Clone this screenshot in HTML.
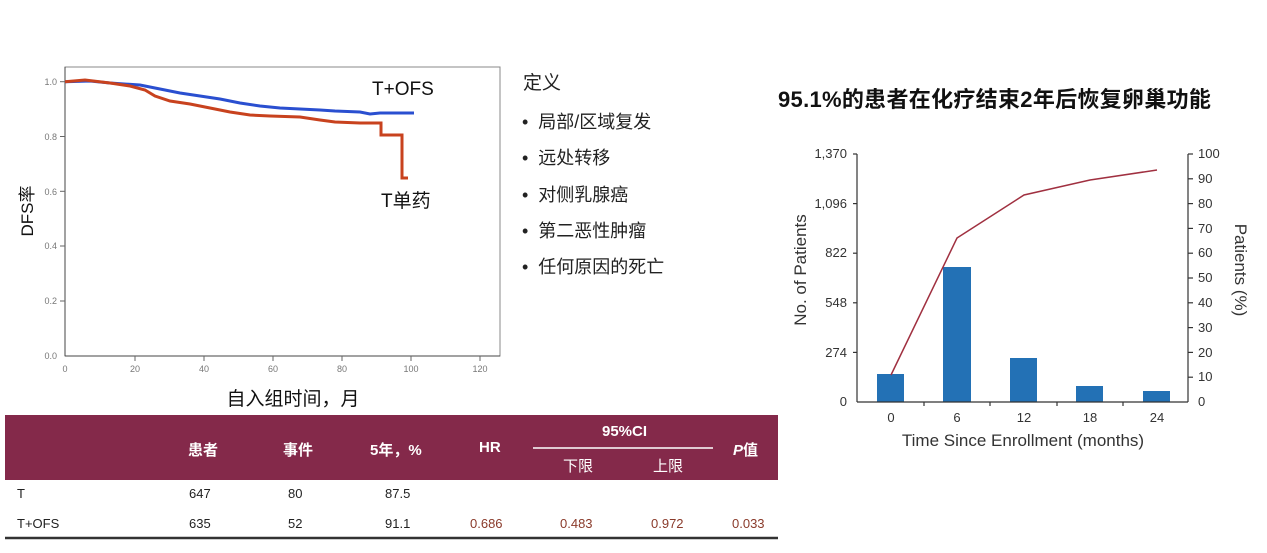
<!DOCTYPE html>
<html><head><meta charset="utf-8"><style>
body{margin:0;width:1267px;height:553px;background:#fff;overflow:hidden;position:relative;font-family:"Liberation Sans","Noto Sans CJK SC",sans-serif;}
.a{position:absolute;white-space:nowrap;}
</style></head><body>
<svg class="a" style="left:0;top:0" width="1267" height="553">
<rect x="65" y="67" width="435" height="289" fill="#fff" stroke="#888" stroke-width="1"/>
<g stroke="#666" stroke-width="1">
<line x1="65" y1="356" x2="500" y2="356" stroke="#444"/>
<line x1="65" y1="67" x2="65" y2="356" stroke="#444"/>
<line x1="60" y1="81.7" x2="65" y2="81.7"/><line x1="60" y1="136.5" x2="65" y2="136.5"/><line x1="60" y1="191.3" x2="65" y2="191.3"/><line x1="60" y1="246" x2="65" y2="246"/><line x1="60" y1="301" x2="65" y2="301"/>
<line x1="135" y1="356" x2="135" y2="361"/><line x1="204" y1="356" x2="204" y2="361"/><line x1="273" y1="356" x2="273" y2="361"/><line x1="342" y1="356" x2="342" y2="361"/><line x1="411" y1="356" x2="411" y2="361"/><line x1="480" y1="356" x2="480" y2="361"/>
</g>
<g font-size="9" fill="#777" font-family="Liberation Sans">
<text x="57" y="85" text-anchor="end">1.0</text><text x="57" y="140" text-anchor="end">0.8</text><text x="57" y="195" text-anchor="end">0.6</text><text x="57" y="249" text-anchor="end">0.4</text><text x="57" y="304" text-anchor="end">0.2</text><text x="57" y="359" text-anchor="end">0.0</text>
<text x="65" y="372" text-anchor="middle">0</text><text x="135" y="372" text-anchor="middle">20</text><text x="204" y="372" text-anchor="middle">40</text><text x="273" y="372" text-anchor="middle">60</text><text x="342" y="372" text-anchor="middle">80</text><text x="411" y="372" text-anchor="middle">100</text><text x="480" y="372" text-anchor="middle">120</text>
</g>
<polyline fill="none" stroke="#2a4fd0" stroke-width="3" points="65,81.7 90,81 110,83 140,85 160,89 180,93 200,96 220,99 240,103 260,106 280,108 300,109 320,110 335,111 360,112 370,114 380,113 414,113"/>
<polyline fill="none" stroke="#c8421e" stroke-width="3" points="65,81.7 85,80 110,83 130,86 145,90 155,96 170,101 190,104 210,108 230,112 250,115 270,116 300,117 320,120 335,122 360,123 378,123 381,123 381,135 395,135 402,135 402,178 408,178"/>
<text x="372" y="95" font-size="19" fill="#111">T+OFS</text>
<text x="381" y="207" font-size="19" fill="#111" font-family="Liberation Sans,Noto Sans CJK SC,sans-serif">T单药</text>
<text transform="translate(33,211) rotate(-90)" font-size="17" fill="#111" text-anchor="middle" font-family="Liberation Sans,Noto Sans CJK SC,sans-serif">DFS率</text>
<text x="293" y="405" font-size="19" fill="#111" text-anchor="middle" font-family="Liberation Sans,Noto Sans CJK SC,sans-serif">自入组时间，月</text>
<g fill="#2371b5">
<rect x="877" y="374" width="27" height="28"/><rect x="943" y="267" width="28" height="135"/><rect x="1010" y="358" width="27" height="44"/><rect x="1076" y="386" width="27" height="16"/><rect x="1143" y="391" width="27" height="11"/>
</g>
<polyline fill="none" stroke="#a03040" stroke-width="1.5" points="891,375 957,238 1024,195 1090,180 1157,170"/>
<g stroke="#333" stroke-width="1.2">
<line x1="857" y1="154" x2="857" y2="402"/><line x1="857" y1="402" x2="1188" y2="402"/><line x1="1188" y1="154" x2="1188" y2="402"/>
<line x1="853" y1="154" x2="857" y2="154"/><line x1="853" y1="203.6" x2="857" y2="203.6"/><line x1="853" y1="253.2" x2="857" y2="253.2"/><line x1="853" y1="302.8" x2="857" y2="302.8"/><line x1="853" y1="352.4" x2="857" y2="352.4"/>
<line x1="924" y1="402" x2="924" y2="406"/><line x1="990" y1="402" x2="990" y2="406"/><line x1="1057" y1="402" x2="1057" y2="406"/><line x1="1123" y1="402" x2="1123" y2="406"/>
<line x1="1188" y1="154" x2="1193" y2="154"/><line x1="1188" y1="178.8" x2="1193" y2="178.8"/><line x1="1188" y1="203.6" x2="1193" y2="203.6"/><line x1="1188" y1="228.4" x2="1193" y2="228.4"/><line x1="1188" y1="253.2" x2="1193" y2="253.2"/><line x1="1188" y1="278" x2="1193" y2="278"/><line x1="1188" y1="302.8" x2="1193" y2="302.8"/><line x1="1188" y1="327.6" x2="1193" y2="327.6"/><line x1="1188" y1="352.4" x2="1193" y2="352.4"/><line x1="1188" y1="377.2" x2="1193" y2="377.2"/>
</g>
<g font-size="13" fill="#333" font-family="Liberation Sans">
<text x="847" y="158" text-anchor="end">1,370</text><text x="847" y="208" text-anchor="end">1,096</text><text x="847" y="257" text-anchor="end">822</text><text x="847" y="307" text-anchor="end">548</text><text x="847" y="357" text-anchor="end">274</text><text x="847" y="406" text-anchor="end">0</text>
<text x="1198" y="158">100</text><text x="1198" y="183">90</text><text x="1198" y="208">80</text><text x="1198" y="233">70</text><text x="1198" y="257">60</text><text x="1198" y="282">50</text><text x="1198" y="307">40</text><text x="1198" y="332">30</text><text x="1198" y="357">20</text><text x="1198" y="381">10</text><text x="1198" y="406">0</text>
<text x="891" y="422" text-anchor="middle">0</text><text x="957" y="422" text-anchor="middle">6</text><text x="1024" y="422" text-anchor="middle">12</text><text x="1090" y="422" text-anchor="middle">18</text><text x="1157" y="422" text-anchor="middle">24</text>
</g>
<text x="1023" y="446" font-size="17" fill="#333" text-anchor="middle">Time Since Enrollment (months)</text>
<text transform="translate(806,270) rotate(-90)" font-size="17" fill="#333" text-anchor="middle">No. of Patients</text>
<text transform="translate(1235,270) rotate(90)" font-size="17" fill="#333" text-anchor="middle">Patients (%)</text>
<rect x="5" y="415" width="773" height="65" fill="#84294a"/>
<line x1="533" y1="448" x2="713" y2="448" stroke="#fff" stroke-width="1.5"/>
<line x1="5" y1="538" x2="778" y2="538" stroke="#333" stroke-width="2.5"/>
</svg>
<div class="a" style="left:778px;top:82px;font-size:22px;font-weight:bold;color:#111;letter-spacing:0.3px">95.1%的患者在化疗结束2年后恢复卵巢功能</div>
<div class="a" style="left:523px;top:68px;font-size:19px;color:#222">定义</div>
<div class="a" style="left:522px;top:104px;font-size:18px;color:#222;line-height:36.3px">•&nbsp;&nbsp;局部/区域复发<br>•&nbsp;&nbsp;远处转移<br>•&nbsp;&nbsp;对侧乳腺癌<br>•&nbsp;&nbsp;第二恶性肿瘤<br>•&nbsp;&nbsp;任何原因的死亡</div>
<div style="color:#fff;font-size:15px;font-weight:bold">
<div class="a" style="left:188px;top:439px">患者</div>
<div class="a" style="left:283px;top:439px">事件</div>
<div class="a" style="left:370px;top:439px">5年，%</div>
<div class="a" style="left:479px;top:439px">HR</div>
<div class="a" style="left:602px;top:423px">95%CI</div>
<div class="a" style="left:563px;top:455px;font-weight:normal">下限</div>
<div class="a" style="left:653px;top:455px;font-weight:normal">上限</div>
<div class="a" style="left:733px;top:439px"><i>P</i>值</div>
</div>
<div style="font-size:13px;color:#222">
<div class="a" style="left:17px;top:486px">T</div>
<div class="a" style="left:189px;top:486px">647</div>
<div class="a" style="left:288px;top:486px">80</div>
<div class="a" style="left:385px;top:486px">87.5</div>
<div class="a" style="left:17px;top:516px">T+OFS</div>
<div class="a" style="left:189px;top:516px">635</div>
<div class="a" style="left:288px;top:516px">52</div>
<div class="a" style="left:385px;top:516px">91.1</div>
<div class="a" style="left:470px;top:516px;color:#8a3a2a">0.686</div>
<div class="a" style="left:560px;top:516px;color:#8a3a2a">0.483</div>
<div class="a" style="left:651px;top:516px;color:#8a3a2a">0.972</div>
<div class="a" style="left:732px;top:516px;color:#8a3a2a">0.033</div>
</div>
</body></html>
